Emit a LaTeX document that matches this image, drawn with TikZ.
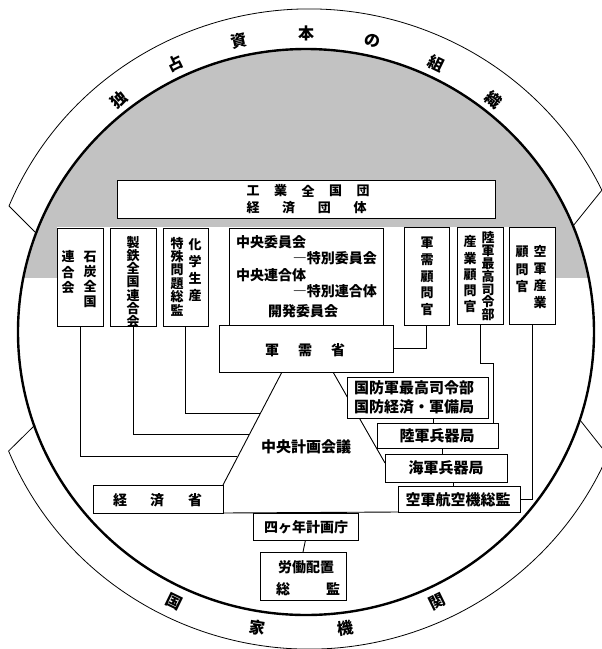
\documentclass[tikz,border=0pt]{standalone}
\usepackage{fontspec}
\newfontfamily\jp{Noto Sans CJK JP}
\usetikzlibrary{calc}
\pgfdeclarelayer{bg}
\pgfsetlayers{bg,main}
\begin{document}
\begin{tikzpicture}[x=1pt,y=-1pt,
  boxn/.style={draw, fill=white, line width=0.9pt, inner sep=0pt, outer sep=0pt},
  jt/.style={font=\jp\bfseries\fontsize{#1}{#1}\selectfont, inner sep=0pt},
  vt/.style={font=\jp\bfseries\fontsize{13}{#1}\selectfont, align=center, inner sep=0pt},
  bt/.style={font=\jp\bfseries\fontsize{16}{16}\selectfont, inner sep=0pt},
  ln/.style={line width=0.9pt},
  rim/.style={line width=0.8pt},
]
\useasboundingbox (0,0) rectangle (602,649);

% ---------- boxes ----------
\node[boxn, minimum width=378, minimum height=38] (ind) at (306,199) {};
\node[boxn, minimum width=46, minimum height=98] (coal) at (80,277) {};
\node[boxn, minimum width=46, minimum height=98] (iron) at (133,277) {};
\node[boxn, minimum width=45, minimum height=98] (chem) at (185.5,277) {};
\node[boxn, minimum width=154, minimum height=97] (cent) at (306,276.5) {};
\node[boxn, minimum width=174, minimum height=47] (mun) at (306,348.5) {};
\node[boxn, minimum width=45, minimum height=98] (advm) at (426.5,276) {};
\node[boxn, minimum width=46, minimum height=97] (army) at (480,275.5) {};
\node[boxn, minimum width=46, minimum height=97] (air) at (532,275.5) {};
\node[boxn, minimum width=141, minimum height=41] (def) at (417.5,397.5) {};
\node[boxn, minimum width=121, minimum height=25] (armyw) at (437.5,435.5) {};
\node[boxn, minimum width=122, minimum height=28] (navy) at (446,468) {};
\node[boxn, minimum width=122, minimum height=26] (airc) at (459,499) {};
\node[boxn, minimum width=130, minimum height=28] (econ) at (158,499) {};
\node[boxn, minimum width=105, minimum height=27] (four) at (305.5,526.5) {};
\node[boxn, minimum width=86, minimum height=48] (labor) at (303,576) {};

% ---------- texts ----------
\foreach \c [count=\i from 0] in {工,業,全,国,団}
  \node[jt=13] (ia\i) at (253+27.5*\i,191) {\c};
\foreach \c [count=\i from 0] in {経,済,団,体}
  \node[jt=13] (ib\i) at (253+35.7*\i,208) {\c};

\node[vt=15] (coalR) at (90,279.5) {石\\炭\\全\\国};
\node[vt=15.5] (coalL) at (68,272.5) {連\\合\\会};
\node[vt=13.3] (ironT) at (133,282) {製\\鉄\\全\\国\\連\\合\\会};
\node[vt=17] (chemR) at (195,270.5) {化\\学\\生\\産};
\node[vt=13.4] (chemL) at (177,276.5) {特\\殊\\問\\題\\総\\監};

\node[jt=14, anchor=west] (c1) at (236,242) {中央委員会};
\node[jt=14, anchor=east] (c2) at (377,258) {―特別委員会};
\node[jt=14, anchor=west] (c3) at (236,275) {中央連合体};
\node[jt=14, anchor=east] (c4) at (377,291) {―特別連合体};
\node[jt=14, anchor=west] (c5) at (268,311) {開発委員会};

\node[vt=16.75] (advmT) at (427,276.5) {軍\\需\\顧\\問\\官};
\node[vt=12.8] (armyR) at (488,276.4) {陸\\軍\\最\\高\\司\\令\\部};
\node[vt=16.25] (armyL) at (470,274.5) {産\\業\\顧\\問\\官};
\node[vt=17] (airR) at (540,277.5) {空\\軍\\産\\業};
\node[vt=17.5] (airL) at (522,269.5) {顧\\問\\官};

\node[jt=14] (m1) at (272,350) {軍};
\node[jt=14] (m2) at (305,350) {需};
\node[jt=14] (m3) at (338,350) {省};

\node[jt=15, anchor=west] (d1) at (354,388) {国防軍最高司令部};
\node[jt=15, anchor=west] (d2) at (354,407) {国防経済・軍備局};
\node[jt=15] (aw) at (437,436) {陸軍兵器局};
\node[jt=15] (nw) at (446,468) {海軍兵器局};
\node[jt=15] (ac) at (458,500) {空軍航空機総監};
\node[jt=15] (plan) at (306,447) {中央計画会議};

\node[jt=14] (e1) at (120,500) {経};
\node[jt=14] (e2) at (157,500) {済};
\node[jt=14] (e3) at (195,500) {省};
\node[jt=14] (fy) at (306,527) {四ヶ年計画庁};
\node[jt=14] (lb1) at (306,567) {労働配置};
\node[jt=14] (lb2) at (283,589) {総};
\node[jt=14] (lb3) at (333,589) {監};

% ring texts
\node[bt, rotate=39] (r1) at (118.5,99.4) {独};
\node[bt, rotate=26] (r2) at (175.4,63.2) {占};
\node[bt, rotate=13] (r3) at (239,40.6) {資};
\node[bt] (r4) at (306,33) {本};
\node[bt, rotate=-13] (r5) at (373,40.6) {の};
\node[bt, rotate=-26] (r6) at (436.6,63.2) {組};
\node[bt, rotate=-39] (r7) at (493.5,99.4) {織};
\node[bt, rotate=-26] (s1) at (174.5,601.6) {国};
\node[bt, rotate=-9] (s2) at (257,628) {家};
\node[bt, rotate=9] (s3) at (345,628) {機};
\node[bt, rotate=26] (s4) at (437.5,601.6) {関};

% ---------- background drawing ----------
\begin{pgfonlayer}{bg}
  \begin{scope}
    \clip (306,332) ellipse [x radius=288, y radius=283];
    \fill[black!24] (0,0) rectangle (602,278);
  \end{scope}
  \fill[white] (57,227) rectangle (555,279);
  \draw[line width=2.4pt] (306,332) ellipse [x radius=288, y radius=283];
  % outer rim
  \draw[rim] (35,232) -- (9,206) arc[start angle=202.6, end angle=334.3, x radius=325, y radius=320] -- (573,226);
  \draw[rim] (35,425) -- (8.6,451) arc[start angle=157.6, end angle=23.2, x radius=325, y radius=320] -- (580,420);
  % trapezoid of the central planning council
  \coordinate (tl) at (282,372);
  \coordinate (tr) at (333,372);
  \coordinate (br) at (385,463);
  \draw[ln] (tl) -- (econ.north east);
  \draw[ln] (tr) -- (br);
  % connectors from the left columns
  \coordinate (pa) at (237.4,456);
  \coordinate (pb) at (249.1,434);
  \coordinate (pc) at (260.2,413);
  \draw[ln] (coal.south) |- (pa);
  \draw[ln] (iron.south) |- (pb);
  \draw[ln] (chem.south) |- (pc);
  % right side connectors
  \draw[ln] (advm.south) |- (mun.east);
  \coordinate (ak) at (493,363);
  \draw[ln] (army.south) |- (ak) -- (ak |- armyw.north);
  \draw[ln] (air.south) |- (airc.east);
  \draw[ln] ([xshift=-4.5]armyw.north) -- ([xshift=-4.5]armyw.north |- def.south);
  \draw[ln] ([xshift=-4]navy.north) -- ([xshift=-4]navy.north |- armyw.south);
  \draw[ln] ([xshift=-6]airc.north) -- ([xshift=-6]airc.north |- navy.south);
  \draw[ln] (econ.south east) -- (airc.south west);
  \draw[ln] (four.south) -- (labor.north);
\end{pgfonlayer}
\end{tikzpicture}
\end{document}
